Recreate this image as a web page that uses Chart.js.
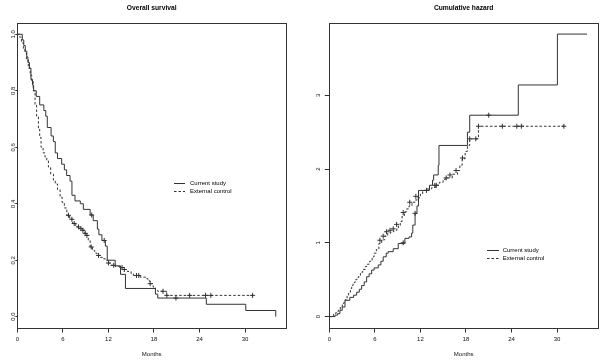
<!DOCTYPE html>
<html>
<head>
<meta charset="utf-8">
<script src="https://cdn.jsdelivr.net/npm/chart.js@4"></script>
<style>
html, body { margin: 0; padding: 0; background: #fff; }
#wrap { position: relative; width: 603px; height: 362px; }
canvas { position: absolute; top: 0; }
</style>
</head>
<body>
<div id="wrap">
<canvas id="Chart1" width="301" height="362" style="left:0"></canvas>
<canvas id="Chart2" width="302" height="362" style="left:301px"></canvas>
</div>
<script>
var xTicks = [0, 6, 12, 18, 24, 30];
var survTicks = [0, 0.2, 0.4, 0.6, 0.8, 1.0];
var hazTicks = [0, 1, 2, 3];
var seriesNames = ['Current study', 'External control'];

// overall survival - current study
var curTimes = [0, 0.66, 0.85, 1.05, 1.25, 1.4, 1.6, 1.8, 2.0, 2.15, 2.5, 2.95, 3.5, 3.75, 3.95, 4.45, 4.75, 5.0, 5.3, 5.85,
    6.2, 6.5, 6.95, 7.2, 7.6, 8.3, 8.7, 9.6, 10.0, 10.55, 10.75, 11.15, 11.6, 11.85, 12.9, 13.6, 14.25, 18.2, 18.5, 24.9, 30.1, 34.05];
var curSurv = [1, 0.98, 0.96, 0.94, 0.92, 0.90, 0.88, 0.84, 0.82, 0.80, 0.78, 0.75, 0.73, 0.71, 0.67, 0.64, 0.62, 0.58, 0.56, 0.54,
    0.52, 0.50, 0.48, 0.43, 0.41, 0.40, 0.38, 0.36, 0.34, 0.31, 0.29, 0.27, 0.25, 0.20, 0.18, 0.15, 0.10, 0.08, 0.066, 0.044, 0.022, 0];
var curCensTimes = [9.8, 11.45, 20.9];
var curCensSurv = [0.36, 0.27, 0.066];

// overall survival - external control
var extTimes = [0, 0.3, 0.55, 0.8, 1.0, 1.2, 1.45, 1.7, 1.9, 2.1, 2.34, 2.55, 2.78, 2.95, 3.13, 3.4, 3.65, 3.88, 4.1, 4.4,
    4.76, 5.0, 5.3, 5.64, 5.9, 6.2, 6.53, 6.9, 7.3, 7.7, 8.1, 8.5, 8.9, 9.1, 9.35, 9.6, 9.9, 10.2, 10.5, 10.9,
    11.3, 11.6, 12.0, 12.3, 12.9, 13.5, 14.0, 14.5, 15.0, 15.3, 16.2, 16.9, 17.2, 17.5, 17.9, 18.2, 18.5, 19.65, 31.0];
var extSurv = [1, 0.99, 0.97, 0.95, 0.935, 0.91, 0.88, 0.855, 0.833, 0.80, 0.75, 0.71, 0.667, 0.635, 0.60, 0.58, 0.565, 0.554, 0.53, 0.505,
    0.483, 0.47, 0.45, 0.424, 0.405, 0.385, 0.359, 0.345, 0.33, 0.318, 0.312, 0.306, 0.295, 0.288, 0.27, 0.247, 0.235, 0.225, 0.217, 0.21,
    0.205, 0.2, 0.19, 0.182, 0.178, 0.174, 0.167, 0.16, 0.152, 0.146, 0.14, 0.135, 0.127, 0.117, 0.105, 0.093, 0.09, 0.0755, 0.0755];
var extCensTimes = [6.74, 7.19, 7.5, 8.06, 8.38, 8.64, 8.95, 9.17, 9.74, 10.7, 12.0, 12.7, 13.8, 14.1, 15.7, 16.0, 17.5, 19.2, 19.7, 22.7, 24.8, 25.5, 31.0];
var extCensSurv = [0.359, 0.345, 0.33, 0.318, 0.312, 0.306, 0.295, 0.288, 0.247, 0.217, 0.19, 0.182, 0.174, 0.167, 0.146, 0.146, 0.117, 0.09, 0.0755, 0.0755, 0.0755, 0.0755, 0.0755];

// cumulative hazard - current study
var curHazTimes = [0, 0.75, 1.1, 1.4, 1.7, 2.07, 2.7, 3.2, 3.6, 3.95, 4.26, 4.6, 4.92, 5.25, 5.58, 5.9, 6.45, 6.8, 7.1, 7.5,
    7.76, 8.42, 9.08, 9.96, 10.5, 10.84, 11.0, 11.3, 11.55, 11.75, 13.2, 13.6, 13.75, 14.35, 14.45, 18.2, 18.5, 24.9, 30.05, 33.95];
var curHaz = [0, 0.02, 0.04, 0.085, 0.13, 0.22, 0.26, 0.29, 0.33, 0.37, 0.42, 0.47, 0.54, 0.58, 0.63, 0.66, 0.70, 0.75, 0.81, 0.86,
    0.88, 0.92, 0.99, 1.06, 1.08, 1.13, 1.24, 1.40, 1.50, 1.71, 1.78, 1.85, 1.92, 2.05, 2.32, 2.50, 2.73, 3.14, 3.83, 3.83];
var curHazCensTimes = [9.74, 11.3, 21.0];
var curHazCens = [1.0, 1.40, 2.73];

// cumulative hazard - external control
var extHazTimes = [0, 0.3, 0.55, 0.8, 1.0, 1.2, 1.45, 1.7, 1.9, 2.1, 2.34, 2.55, 2.78, 2.95, 3.13, 3.4, 3.65, 3.88, 4.1, 4.4,
    4.76, 5.0, 5.3, 5.64, 5.9, 6.2, 6.53, 6.9, 7.3, 7.7, 8.1, 8.5, 8.9, 9.1, 9.35, 9.6, 9.9, 10.2, 10.5, 10.9,
    11.3, 11.6, 12.0, 12.3, 12.9, 13.5, 14.0, 14.5, 15.0, 15.3, 16.2, 16.9, 17.2, 17.5, 17.9, 18.2, 18.5, 19.65, 30.9];
var extHaz = [0, 0.01, 0.03, 0.05, 0.07, 0.09, 0.13, 0.16, 0.19, 0.23, 0.29, 0.33, 0.38, 0.42, 0.46, 0.50, 0.53, 0.56, 0.60, 0.64,
    0.68, 0.71, 0.75, 0.81, 0.86, 0.91, 0.99, 1.04, 1.09, 1.13, 1.15, 1.17, 1.20, 1.23, 1.29, 1.37, 1.42, 1.46, 1.50, 1.55,
    1.58, 1.61, 1.66, 1.71, 1.73, 1.75, 1.78, 1.82, 1.86, 1.88, 1.93, 1.98, 2.05, 2.14, 2.24, 2.32, 2.41, 2.58, 2.58];
var extHazCensTimes = [6.67, 7.1, 7.55, 8.0, 8.42, 8.87, 9.74, 10.6, 11.4, 12.8, 13.9, 14.1, 15.4, 15.9, 16.7, 17.55, 18.5, 19.3, 19.65, 22.8, 24.7, 25.3, 30.9];
var extHazCens = [1.035, 1.09, 1.15, 1.17, 1.19, 1.25, 1.41, 1.55, 1.63, 1.71, 1.78, 1.78, 1.88, 1.92, 1.98, 2.15, 2.41, 2.41, 2.58, 2.58, 2.58, 2.58, 2.58];

var fontFam = '"Liberation Sans", Arial, Helvetica, sans-serif';
var ink = '#333';
Chart.defaults.font.family = fontFam;
Chart.defaults.font.size = 6;
Chart.defaults.color = '#111';

function pts(xs, ys) {
    return xs.map(function (x, i) { return { x: x, y: ys[i] }; });
}

// box round the plot region, title and legend, like base R graphics
var rPlot = {
    id: 'rPlot',
    afterDraw: function (chart, args, opts) {
        var ctx = chart.ctx, a = chart.chartArea;
        ctx.save();
        ctx.strokeStyle = ink;
        ctx.lineWidth = 1;
        ctx.strokeRect(Math.round(a.left) + 0.5, Math.round(a.top) + 0.5,
            Math.round(a.right - a.left), Math.round(a.bottom - a.top));

        ctx.fillStyle = '#000';
        ctx.font = 'bold 6.7px ' + fontFam;
        ctx.textAlign = 'center';
        ctx.textBaseline = 'middle';
        ctx.fillText(opts.title, (a.left + a.right) / 2, 7.7);

        var lg = opts.legend;
        ctx.font = '6px ' + fontFam;
        ctx.textAlign = 'left';
        seriesNames.forEach(function (name, i) {
            var y = Math.round(lg.y + i * lg.dy) + 0.5;
            ctx.setLineDash(i === 1 ? [2.5, 2] : []);
            ctx.beginPath();
            ctx.moveTo(lg.x, y);
            ctx.lineTo(lg.x + lg.len, y);
            ctx.stroke();
            ctx.fillText(name, lg.textX, y);
        });
        ctx.restore();
    }
};

function makeChart(id, c) {
    var ctx = document.getElementById(id).getContext('2d');
    return new Chart(ctx, {
        type: 'line',
        data: {
            datasets: [{
                label: seriesNames[0],
                data: pts(c.t1, c.v1),
                stepped: true,
                borderColor: ink,
                borderWidth: 1,
                pointRadius: 0,
                fill: false
            }, {
                label: seriesNames[1],
                data: pts(c.t2, c.v2),
                stepped: true,
                borderColor: ink,
                borderWidth: 1,
                borderDash: [2.5, 2],
                pointRadius: 0,
                fill: false
            }, {
                label: 'cens1',
                data: pts(c.ct1, c.cv1),
                showLine: false,
                pointStyle: 'cross',
                pointRadius: 2.5,
                pointBorderWidth: 1,
                pointBorderColor: '#333'
            }, {
                label: 'cens2',
                data: pts(c.ct2, c.cv2),
                showLine: false,
                pointStyle: 'cross',
                pointRadius: 2.5,
                pointBorderWidth: 1,
                pointBorderColor: '#333'
            }]
        },
        options: {
            responsive: false,
            animation: false,
            devicePixelRatio: 1,
            layout: { padding: { top: 23, right: c.padRight, bottom: 0, left: 0 } },
            plugins: {
                legend: { display: false },
                tooltip: { enabled: false },
                rPlot: { title: c.title, legend: c.legend }
            },
            scales: {
                x: {
                    type: 'linear',
                    min: 0,
                    max: 35.4,
                    afterBuildTicks: function (s) { s.ticks = xTicks.map(function (v) { return { value: v }; }); },
                    afterFit: function (s) { s.height = 34; },
                    border: { display: false },
                    grid: { drawOnChartArea: false, drawTicks: true, tickLength: 4.5, color: ink },
                    ticks: { padding: 3.2, maxRotation: 0, autoSkip: false, color: '#111' },
                    title: { display: true, text: 'Months', color: '#111', padding: { top: 0, bottom: 4.4 } }
                },
                y: {
                    type: 'linear',
                    min: c.ymin,
                    max: c.ymax,
                    afterBuildTicks: function (s) { s.ticks = c.yTicks.map(function (v) { return { value: v }; }); },
                    afterFit: function (s) { s.width = c.yWidth; },
                    border: { display: false },
                    grid: { drawOnChartArea: false, drawTicks: true, tickLength: c.yTickLen, color: ink },
                    ticks: {
                        minRotation: 90,
                        maxRotation: 90,
                        crossAlign: 'center',
                        padding: c.yPad,
                        autoSkip: false,
                        color: '#111',
                        callback: c.fmt
                    }
                }
            }
        },
        plugins: [rPlot]
    });
}

makeChart('Chart1', {
    title: 'Overall survival',
    t1: curTimes, v1: curSurv, t2: extTimes, v2: extSurv,
    ct1: curCensTimes, cv1: curCensSurv, ct2: extCensTimes, cv2: extCensSurv,
    ymin: -0.04, ymax: 1.04, yTicks: survTicks,
    yWidth: 17.3, yTickLen: 2, yPad: -1.9, padRight: 15,
    fmt: function (v) { return v.toFixed(1); },
    legend: { x: 174, y: 183.3, dy: 7.5, len: 11, textX: 190 }
});

makeChart('Chart2', {
    title: 'Cumulative hazard',
    t1: curHazTimes, v1: curHaz, t2: extHazTimes, v2: extHaz,
    ct1: curHazCensTimes, cv1: curHazCens, ct2: extHazCensTimes, cv2: extHazCens,
    ymin: -0.155, ymax: 3.98, yTicks: hazTicks,
    yWidth: 28.3, yTickLen: 4.5, yPad: 4.4, padRight: 5,
    fmt: function (v) { return String(v); },
    legend: { x: 186, y: 250.3, dy: 8, len: 12, textX: 201.7 }
});
</script>
</body>
</html>
